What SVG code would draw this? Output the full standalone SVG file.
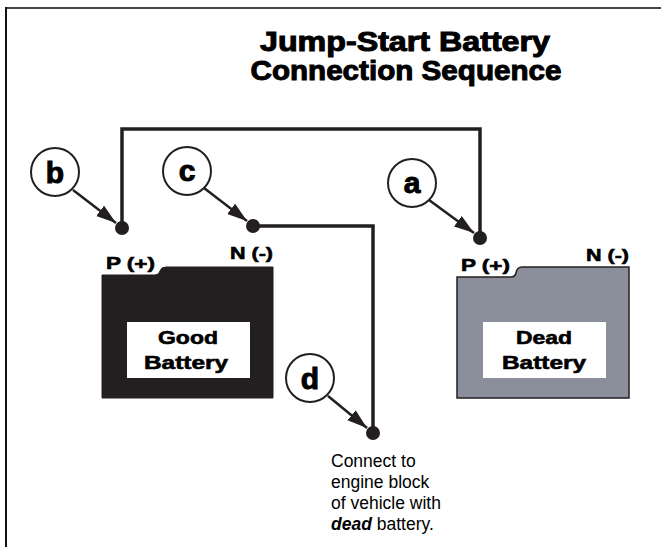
<svg xmlns="http://www.w3.org/2000/svg" width="661" height="547" viewBox="0 0 661 547">
<defs>
<style>
.title{font-family:"Liberation Sans",Arial,sans-serif;font-weight:bold;font-size:27px;fill:#000;stroke:#000;stroke-width:1;text-anchor:middle}
.term{font-family:"Liberation Sans",Arial,sans-serif;font-weight:bold;font-size:17px;fill:#000;stroke:#000;stroke-width:0.6}
.lbl{font-family:"Liberation Sans",Arial,sans-serif;font-weight:bold;font-size:19px;fill:#000;stroke:#000;stroke-width:0.6;text-anchor:middle}
.step{font-family:"Liberation Sans",Arial,sans-serif;font-weight:bold;font-size:30px;fill:#000;stroke:#000;stroke-width:1;text-anchor:middle}
.note{font-family:"Liberation Sans",Arial,sans-serif;font-size:17.5px;fill:#000}
.circ{fill:#fff;stroke:#231f20;stroke-width:2}
.wire{fill:none;stroke:#231f20;stroke-width:3.5}
.ptr{stroke:#231f20;stroke-width:2.5;marker-end:url(#ah)}
.dot{fill:#231f20}
</style>
<marker id="ah" markerUnits="userSpaceOnUse" markerWidth="22" markerHeight="14" refX="20" refY="6.5" orient="auto">
<path d="M0,0 L20,6.5 L0,13 Z" fill="#231f20"/>
</marker>
</defs>
<rect width="661" height="547" fill="#fff"/>
<line x1="5" y1="8" x2="661" y2="8" stroke="#444" stroke-width="2"/>
<line x1="6" y1="7" x2="6" y2="547" stroke="#111" stroke-width="2"/>
<g id="title">
<text class="title" x="405" y="51" textLength="290" lengthAdjust="spacingAndGlyphs">Jump-Start Battery</text>
<text class="title" x="406" y="80" textLength="311" lengthAdjust="spacingAndGlyphs">Connection Sequence</text>
</g>
<g id="good-battery">
<path d="M102,275 L155,275 Q159,275 160,271 Q161,267 166,267 L273,267 L273,398 L102,398 Z" fill="#231f20" stroke="#231f20" stroke-width="1"/>
<rect x="127" y="322" width="123" height="56" fill="#fff"/>
<text class="lbl" x="188" y="344" textLength="60" lengthAdjust="spacingAndGlyphs">Good</text>
<text class="lbl" x="186" y="369" textLength="84" lengthAdjust="spacingAndGlyphs">Battery</text>
<text class="term" x="106" y="269" textLength="49" lengthAdjust="spacingAndGlyphs">P (+)</text>
<text class="term" x="230" y="259" textLength="43" lengthAdjust="spacingAndGlyphs">N (-)</text>
</g>
<g id="dead-battery">
<path d="M457,277 L511,277 Q515,277 516,273 Q517,267 522,267 L629,267 L629,398 L457,398 Z" fill="#8a8f9b" stroke="#231f20" stroke-width="1.5"/>
<rect x="483" y="322" width="123" height="56" fill="#fff"/>
<text class="lbl" x="544" y="344" textLength="56" lengthAdjust="spacingAndGlyphs">Dead</text>
<text class="lbl" x="544" y="369" textLength="84" lengthAdjust="spacingAndGlyphs">Battery</text>
<text class="term" x="461" y="271" textLength="49" lengthAdjust="spacingAndGlyphs">P (+)</text>
<text class="term" x="586" y="261" textLength="43" lengthAdjust="spacingAndGlyphs">N (-)</text>
</g>
<g id="connectors">
<polyline class="wire" points="122,228 122,129 480,129 480,237"/>
<polyline class="wire" points="253,226 373,226 373,433"/>
<circle class="dot" cx="122" cy="228" r="7"/>
<circle class="dot" cx="480" cy="238" r="7"/>
<circle class="dot" cx="253" cy="226" r="7"/>
<circle class="dot" cx="373" cy="433" r="7"/>
<line class="ptr" x1="73" y1="190" x2="116" y2="223"/>
<line class="ptr" x1="204" y1="188" x2="247" y2="221"/>
<line class="ptr" x1="429" y1="200" x2="474" y2="233"/>
<line class="ptr" x1="328" y1="396" x2="367" y2="428"/>
</g>
<g id="step-b">
<circle class="circ" cx="55" cy="172" r="24"/>
<text class="step" x="55" y="183">b</text>
</g>
<g id="step-c">
<circle class="circ" cx="187" cy="171" r="24"/>
<text class="step" x="187" y="181">c</text>
</g>
<g id="step-a">
<circle class="circ" cx="412" cy="183" r="24"/>
<text class="step" x="412" y="193">a</text>
</g>
<g id="step-d">
<circle class="circ" cx="310" cy="378" r="24"/>
<text class="step" x="310" y="389">d</text>
</g>
<g id="note">
<text class="note" x="331" y="467">Connect to</text>
<text class="note" x="331" y="488">engine block</text>
<text class="note" x="331" y="509">of vehicle with</text>
<text class="note" x="331" y="530"><tspan font-weight="bold" font-style="italic">dead</tspan> battery.</text>
</g>
</svg>
